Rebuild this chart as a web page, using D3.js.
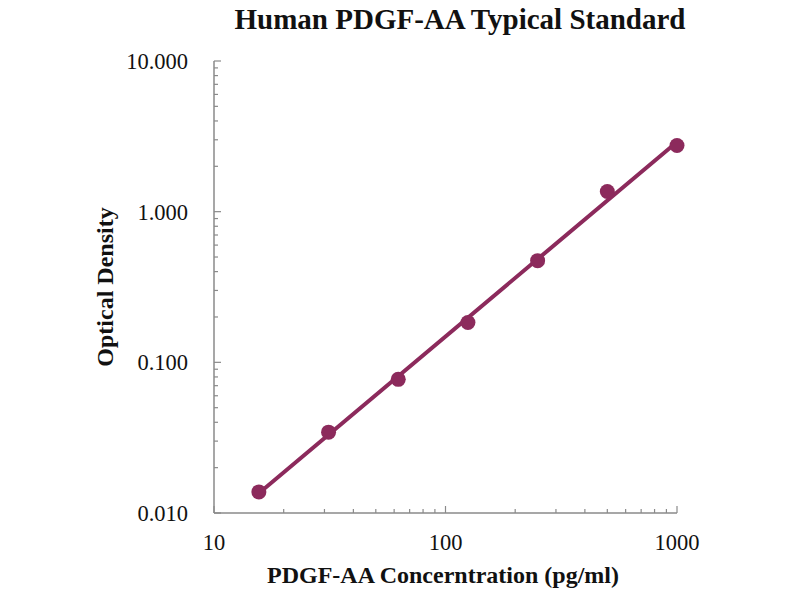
<!DOCTYPE html>
<html><head><meta charset="utf-8">
<script src="https://cdn.jsdelivr.net/npm/d3@7"></script>
<style>body{margin:0;background:#fff}</style>
</head><body>
<svg id="c" width="800" height="600"></svg>
<script>
const concentrations = [15.625, 31.25, 62.5, 125, 250, 500, 1000];
const opticalDensity = [0.0138, 0.0344, 0.0771, 0.184, 0.473, 1.36, 2.75];
const xTickValues = [10, 100, 1000];
const yTickValues = [0.01, 0.1, 1, 10];
const titleText = "Human PDGF-AA Typical Standard";
const xTitle = "PDGF-AA Concerntration (pg/ml)";
const yTitle = "Optical Density";

const svg = d3.select("#c");
const x = d3.scaleLog().domain([10, 1000]).range([214, 677]);
const y = d3.scaleLog().domain([0.01, 10]).range([513, 61]);
const col = "#8c2a5c";
const axisCol = "#8a8a8a";
const serif = "'Liberation Serif','Times New Roman',serif";

// minor ticks
const minorX = [], minorY = [];
for (let d = 10; d < 1000; d *= 10) for (let k = 2; k <= 9; k++) minorX.push(d * k);
for (let d = 0.01; d < 9; d *= 10) for (let k = 2; k <= 9; k++) minorY.push(d * k);

// y axis
svg.append("line").attr("x1", x(10)).attr("x2", x(10)).attr("y1", y(10)).attr("y2", y(0.01))
  .attr("stroke", axisCol).attr("stroke-width", 1.5);
svg.selectAll(".ym").data(minorY).join("line")
  .attr("x1", x(10)).attr("x2", x(10) + 4).attr("y1", d => y(d)).attr("y2", d => y(d))
  .attr("stroke", axisCol).attr("stroke-width", 1.2);
svg.selectAll(".yM").data(yTickValues).join("line")
  .attr("x1", x(10)).attr("x2", x(10) + 7).attr("y1", d => y(d)).attr("y2", d => y(d))
  .attr("stroke", axisCol).attr("stroke-width", 1.2);
svg.selectAll(".yl").data(yTickValues).join("text")
  .attr("x", 188).attr("y", d => y(d) + 8).attr("text-anchor", "end")
  .attr("font-family", serif).attr("font-size", 22.5).attr("fill", "#111")
  .text(d => d3.format(".3f")(d));

// x axis
svg.append("line").attr("x1", x(10)).attr("x2", x(1000)).attr("y1", y(0.01)).attr("y2", y(0.01))
  .attr("stroke", axisCol).attr("stroke-width", 1.5);
svg.selectAll(".xm").data(minorX).join("line")
  .attr("x1", d => x(d)).attr("x2", d => x(d)).attr("y1", y(0.01)).attr("y2", y(0.01) - 4)
  .attr("stroke", axisCol).attr("stroke-width", 1.2);
svg.selectAll(".xM").data(xTickValues).join("line")
  .attr("x1", d => x(d)).attr("x2", d => x(d)).attr("y1", y(0.01)).attr("y2", y(0.01) - 7)
  .attr("stroke", axisCol).attr("stroke-width", 1.2);
svg.selectAll(".xl").data(xTickValues).join("text")
  .attr("x", d => x(d)).attr("y", 550).attr("text-anchor", "middle")
  .attr("font-family", serif).attr("font-size", 22.5).attr("fill", "#111")
  .text(d => d);

// power-law trend line (least squares in log-log)
const lx = concentrations.map(Math.log10), ly = opticalDensity.map(Math.log10);
const n = lx.length, mx = d3.mean(lx), my = d3.mean(ly);
const slope = d3.sum(lx.map((v, i) => (v - mx) * (ly[i] - my))) / d3.sum(lx.map(v => (v - mx) ** 2));
const icpt = my - slope * mx;
const fit = c => Math.pow(10, icpt + slope * Math.log10(c));
const ends = [concentrations[0], concentrations[n - 1]];
svg.append("path").datum(ends)
  .attr("d", d3.line().x(d => x(d)).y(d => y(fit(d))))
  .attr("stroke", col).attr("stroke-width", 4).attr("fill", "none").attr("stroke-linecap", "round");

svg.selectAll(".pt").data(concentrations).join("circle")
  .attr("cx", d => x(d)).attr("cy", (d, i) => y(opticalDensity[i])).attr("r", 7.5)
  .attr("fill", col);

// titles
svg.append("text").attr("x", 460).attr("y", 29).attr("text-anchor", "middle")
  .attr("font-family", serif).attr("font-weight", "bold").attr("font-size", 29).attr("fill", "#111")
  .text(titleText);
svg.append("text").attr("x", 443).attr("y", 583).attr("text-anchor", "middle")
  .attr("font-family", serif).attr("font-weight", "bold").attr("font-size", 24).attr("fill", "#111")
  .text(xTitle);
svg.append("text").attr("transform", "translate(113,287) rotate(-90)").attr("text-anchor", "middle")
  .attr("font-family", serif).attr("font-weight", "bold").attr("font-size", 24).attr("fill", "#111")
  .text(yTitle);
</script>
</body></html>
